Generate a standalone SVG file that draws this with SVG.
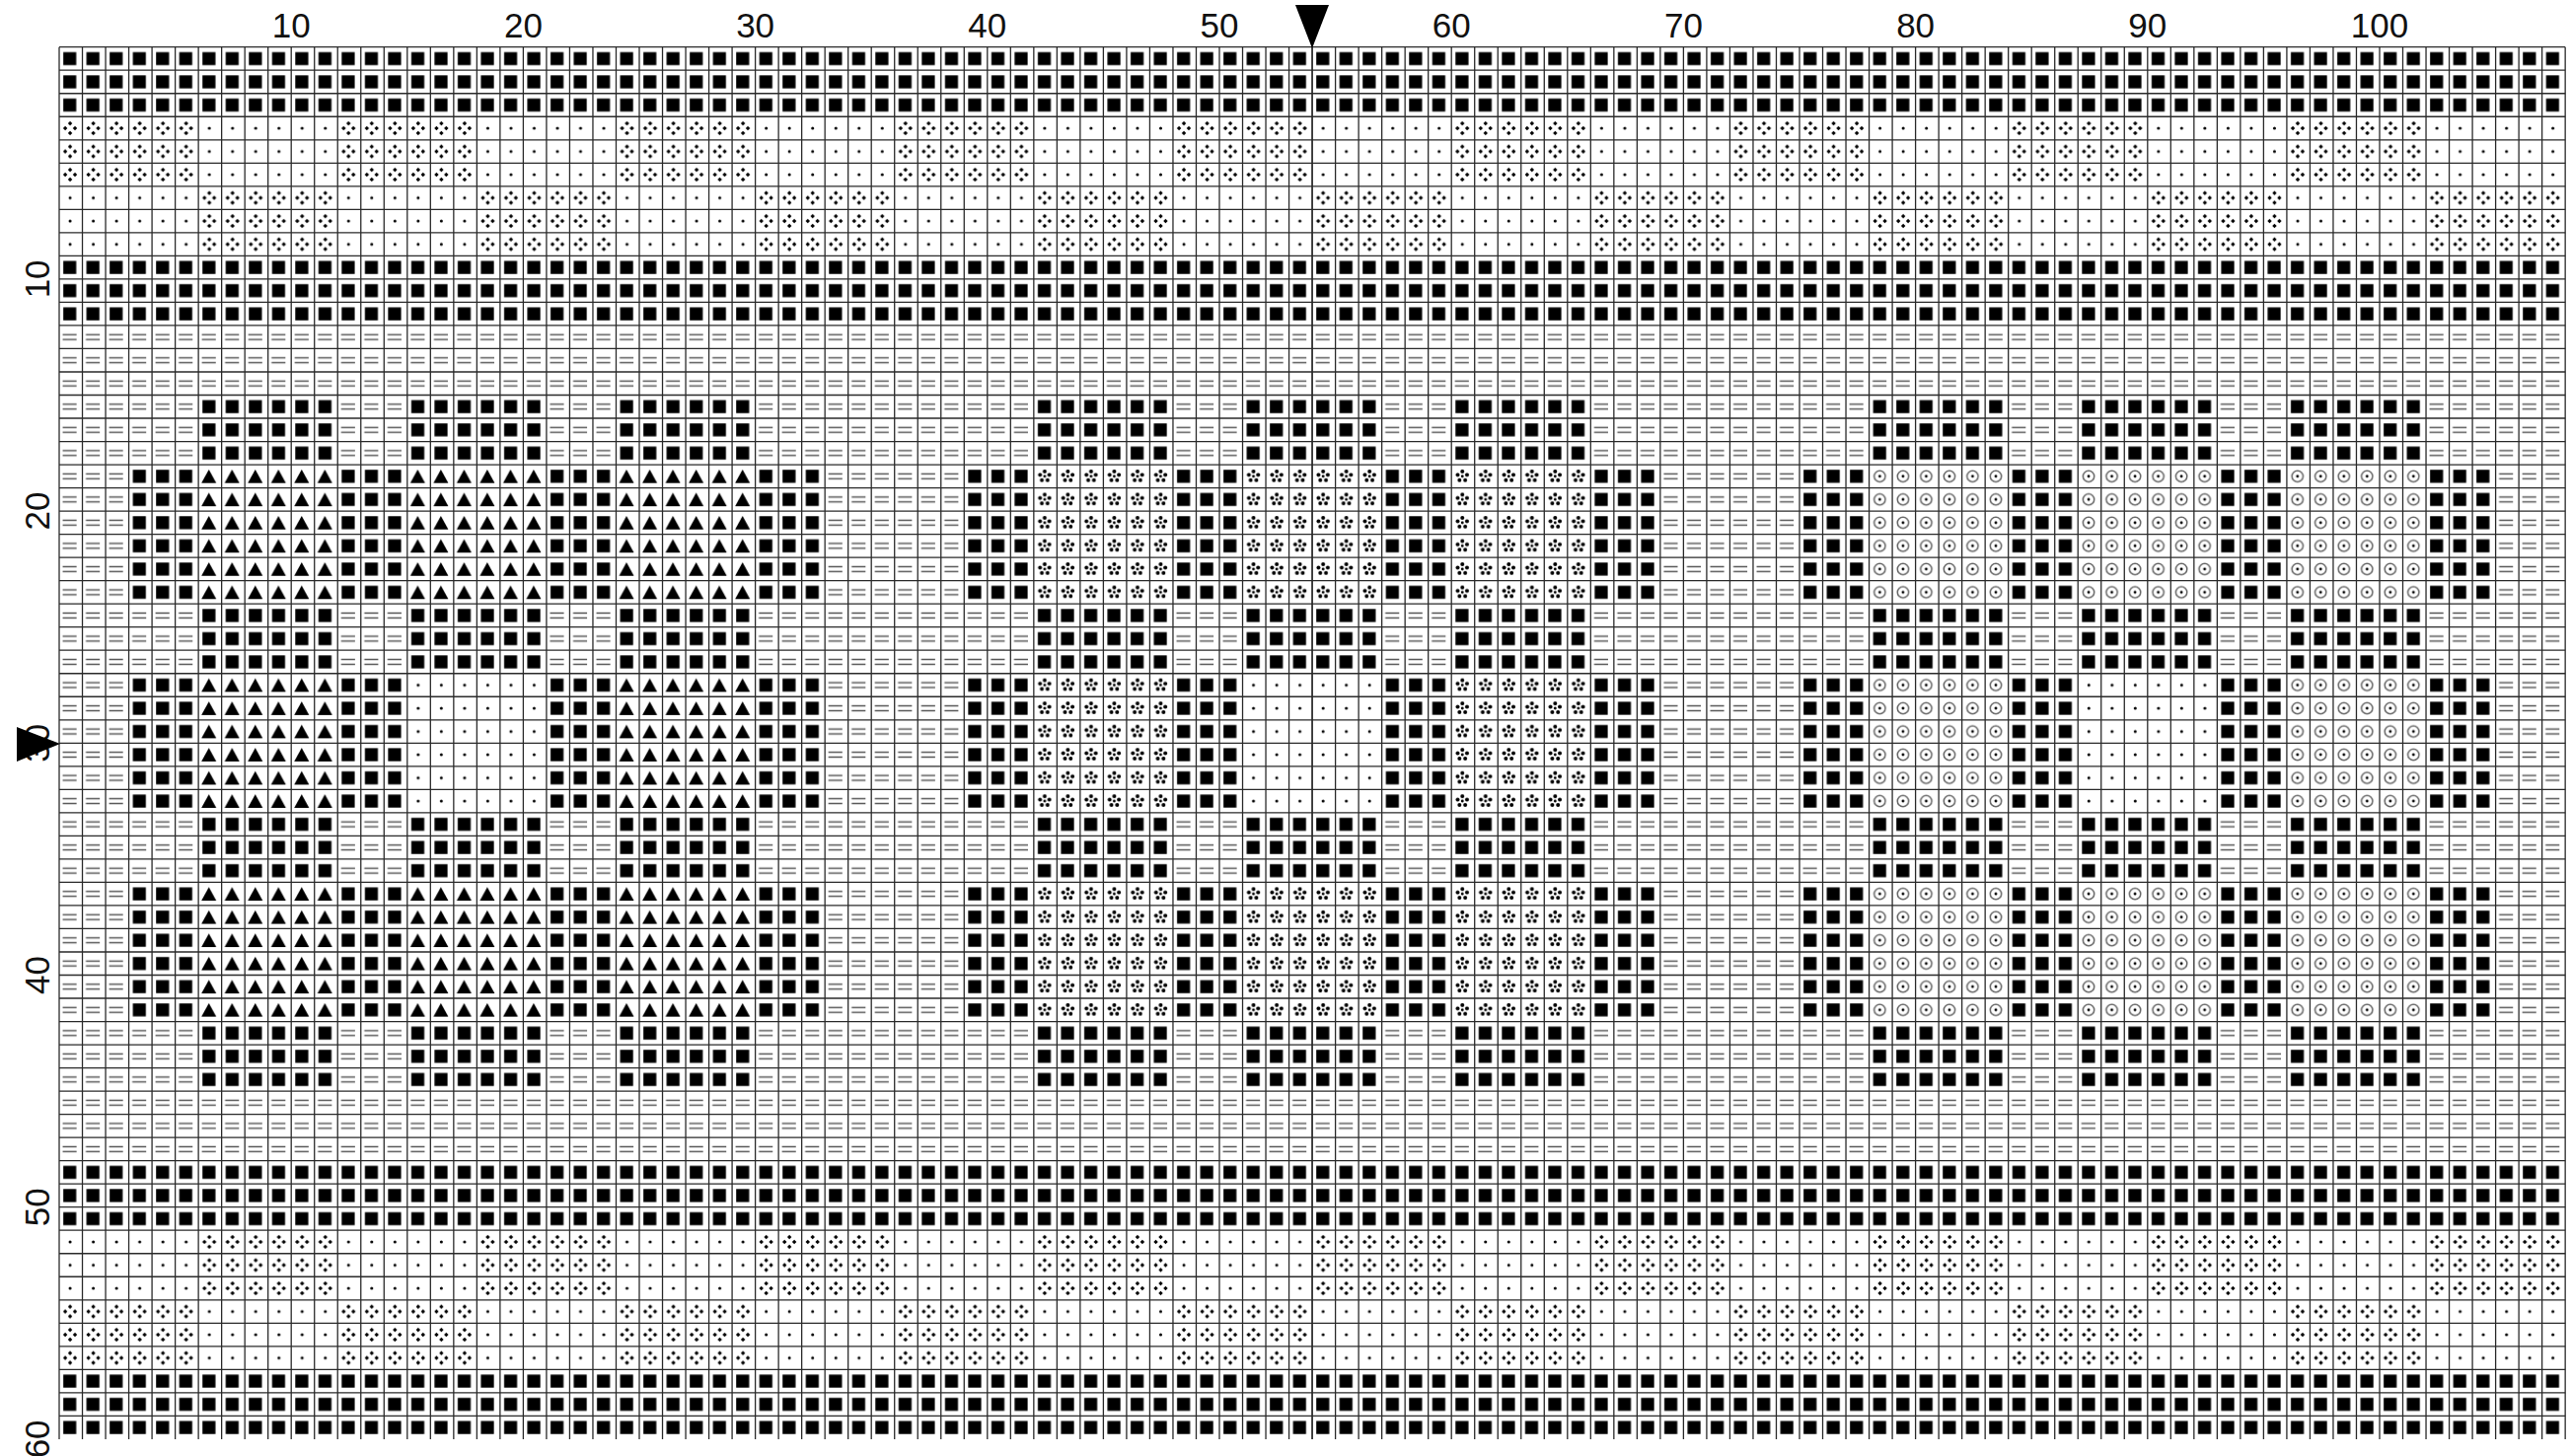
<svg xmlns="http://www.w3.org/2000/svg" width="2606" height="1476" viewBox="0 0 2606 1476">
<style>
.lbl{font-family:"Liberation Sans",Arial,sans-serif;font-size:35px;fill:#111;text-anchor:middle}
.grid{fill:none;stroke:#2a2a2a;stroke-width:0.055}
</style>
<defs>
<g id="sq"><rect x="0.175" y="0.22" width="0.56" height="0.56" fill="#000"/></g>
<g id="dt"><circle cx="0.47" cy="0.5" r="0.065" fill="#000"/></g>
<g id="fl"><path fill="#000" d="M0.47 0.195l0.095 0.095-0.095 0.095-0.095-0.095zM0.47 0.615l0.095 0.095-0.095 0.095-0.095-0.095zM0.26 0.405l0.095 0.095-0.095 0.095-0.095-0.095zM0.68 0.405l0.095 0.095-0.095 0.095-0.095-0.095z"/></g>
<g id="eq"><path fill="none" stroke="#555" stroke-width="0.06" d="M0.15 0.395h0.6M0.15 0.605h0.6"/></g>
<g id="tr"><polygon fill="#000" points="0.45,0.21 0.13,0.79 0.77,0.79"/></g>
<g id="sn" fill="#000"><circle cx="0.47" cy="0.5" r="0.06"/><circle cx="0.47" cy="0.29" r="0.085"/><circle cx="0.67" cy="0.435" r="0.085"/><circle cx="0.593" cy="0.67" r="0.085"/><circle cx="0.347" cy="0.67" r="0.085"/><circle cx="0.27" cy="0.435" r="0.085"/></g>
<g id="ci"><circle cx="0.46" cy="0.5" r="0.24" fill="none" stroke="#666" stroke-width="0.065"/><circle cx="0.46" cy="0.5" r="0.06" fill="#000"/></g>
<pattern id="pSq" patternUnits="userSpaceOnUse" width="1" height="1"><rect width="1" height="1" fill="#fff"/><use href="#sq"/></pattern>
<pattern id="pDt" patternUnits="userSpaceOnUse" width="1" height="1"><rect width="1" height="1" fill="#fff"/><use href="#dt"/></pattern>
<pattern id="pEq" patternUnits="userSpaceOnUse" width="1" height="1"><rect width="1" height="1" fill="#fff"/><use href="#eq"/></pattern>
<pattern id="pTr" patternUnits="userSpaceOnUse" width="1" height="1"><rect width="1" height="1" fill="#fff"/><use href="#tr"/></pattern>
<pattern id="pSn" patternUnits="userSpaceOnUse" width="1" height="1"><rect width="1" height="1" fill="#fff"/><use href="#sn"/></pattern>
<pattern id="pCi" patternUnits="userSpaceOnUse" width="1" height="1"><rect width="1" height="1" fill="#fff"/><use href="#ci"/></pattern>
<pattern id="pA" patternUnits="userSpaceOnUse" width="12" height="1"><rect width="12" height="1" fill="#fff"/><use href="#fl"/><use href="#fl" x="1"/><use href="#fl" x="2"/><use href="#fl" x="3"/><use href="#fl" x="4"/><use href="#fl" x="5"/><use href="#dt" x="6"/><use href="#dt" x="7"/><use href="#dt" x="8"/><use href="#dt" x="9"/><use href="#dt" x="10"/><use href="#dt" x="11"/></pattern>
<pattern id="pB" patternUnits="userSpaceOnUse" width="12" height="1"><rect width="12" height="1" fill="#fff"/><use href="#dt"/><use href="#dt" x="1"/><use href="#dt" x="2"/><use href="#dt" x="3"/><use href="#dt" x="4"/><use href="#dt" x="5"/><use href="#fl" x="6"/><use href="#fl" x="7"/><use href="#fl" x="8"/><use href="#fl" x="9"/><use href="#fl" x="10"/><use href="#fl" x="11"/></pattern>
</defs>
<rect width="2606" height="1476" fill="#fff"/>
<g id="chart" transform="translate(60 47.7) scale(23.52)">
<g id="bands">
<rect x="0" y="0" width="108" height="3" fill="url(#pSq)"/>
<rect x="0" y="3" width="108" height="3" fill="url(#pA)"/>
<rect x="0" y="6" width="108" height="3" fill="url(#pB)"/>
<rect x="0" y="9" width="108" height="3" fill="url(#pSq)"/>
<rect x="0" y="12" width="108" height="36" fill="url(#pEq)"/>
<rect x="0" y="48" width="108" height="3" fill="url(#pSq)"/>
<rect x="0" y="51" width="108" height="3" fill="url(#pB)"/>
<rect x="0" y="54" width="108" height="3" fill="url(#pA)"/>
<rect x="0" y="57" width="108" height="3" fill="url(#pSq)"/>
</g>
<g id="motif-triangles">
<rect x="6" y="15" width="6" height="30" fill="url(#pSq)"/>
<rect x="15" y="15" width="6" height="30" fill="url(#pSq)"/>
<rect x="24" y="15" width="6" height="30" fill="url(#pSq)"/>
<rect x="3" y="18" width="30" height="6" fill="url(#pSq)"/>
<rect x="3" y="27" width="30" height="6" fill="url(#pSq)"/>
<rect x="3" y="36" width="30" height="6" fill="url(#pSq)"/>
<rect x="6" y="18" width="6" height="6" fill="url(#pTr)"/>
<rect x="15" y="18" width="6" height="6" fill="url(#pTr)"/>
<rect x="24" y="18" width="6" height="6" fill="url(#pTr)"/>
<rect x="6" y="27" width="6" height="6" fill="url(#pTr)"/>
<rect x="15" y="27" width="6" height="6" fill="url(#pDt)"/>
<rect x="24" y="27" width="6" height="6" fill="url(#pTr)"/>
<rect x="6" y="36" width="6" height="6" fill="url(#pTr)"/>
<rect x="15" y="36" width="6" height="6" fill="url(#pTr)"/>
<rect x="24" y="36" width="6" height="6" fill="url(#pTr)"/>
</g>
<g id="motif-flowers">
<rect x="42" y="15" width="6" height="30" fill="url(#pSq)"/>
<rect x="51" y="15" width="6" height="30" fill="url(#pSq)"/>
<rect x="60" y="15" width="6" height="30" fill="url(#pSq)"/>
<rect x="39" y="18" width="30" height="6" fill="url(#pSq)"/>
<rect x="39" y="27" width="30" height="6" fill="url(#pSq)"/>
<rect x="39" y="36" width="30" height="6" fill="url(#pSq)"/>
<rect x="42" y="18" width="6" height="6" fill="url(#pSn)"/>
<rect x="51" y="18" width="6" height="6" fill="url(#pSn)"/>
<rect x="60" y="18" width="6" height="6" fill="url(#pSn)"/>
<rect x="42" y="27" width="6" height="6" fill="url(#pSn)"/>
<rect x="51" y="27" width="6" height="6" fill="url(#pDt)"/>
<rect x="60" y="27" width="6" height="6" fill="url(#pSn)"/>
<rect x="42" y="36" width="6" height="6" fill="url(#pSn)"/>
<rect x="51" y="36" width="6" height="6" fill="url(#pSn)"/>
<rect x="60" y="36" width="6" height="6" fill="url(#pSn)"/>
</g>
<g id="motif-circles">
<rect x="78" y="15" width="6" height="30" fill="url(#pSq)"/>
<rect x="87" y="15" width="6" height="30" fill="url(#pSq)"/>
<rect x="96" y="15" width="6" height="30" fill="url(#pSq)"/>
<rect x="75" y="18" width="30" height="6" fill="url(#pSq)"/>
<rect x="75" y="27" width="30" height="6" fill="url(#pSq)"/>
<rect x="75" y="36" width="30" height="6" fill="url(#pSq)"/>
<rect x="78" y="18" width="6" height="6" fill="url(#pCi)"/>
<rect x="87" y="18" width="6" height="6" fill="url(#pCi)"/>
<rect x="96" y="18" width="6" height="6" fill="url(#pCi)"/>
<rect x="78" y="27" width="6" height="6" fill="url(#pCi)"/>
<rect x="87" y="27" width="6" height="6" fill="url(#pDt)"/>
<rect x="96" y="27" width="6" height="6" fill="url(#pCi)"/>
<rect x="78" y="36" width="6" height="6" fill="url(#pCi)"/>
<rect x="87" y="36" width="6" height="6" fill="url(#pCi)"/>
<rect x="96" y="36" width="6" height="6" fill="url(#pCi)"/>
</g>
<g id="gridlines">
<path class="grid" d="M0 0v60m1-60v60m1-60v60m1-60v60m1-60v60m1-60v60m1-60v60m1-60v60m1-60v60m1-60v60m1-60v60m1-60v60m1-60v60m1-60v60m1-60v60m1-60v60m1-60v60m1-60v60m1-60v60
m1-60v60m1-60v60m1-60v60m1-60v60m1-60v60m1-60v60m1-60v60m1-60v60m1-60v60m1-60v60m1-60v60m1-60v60m1-60v60m1-60v60m1-60v60m1-60v60m1-60v60m1-60v60
m1-60v60m1-60v60m1-60v60m1-60v60m1-60v60m1-60v60m1-60v60m1-60v60m1-60v60m1-60v60m1-60v60m1-60v60m1-60v60m1-60v60m1-60v60m1-60v60m1-60v60m1-60v60
m1-60v60m1-60v60m1-60v60m1-60v60m1-60v60m1-60v60m1-60v60m1-60v60m1-60v60m1-60v60m1-60v60m1-60v60m1-60v60m1-60v60m1-60v60m1-60v60m1-60v60m1-60v60
m1-60v60m1-60v60m1-60v60m1-60v60m1-60v60m1-60v60m1-60v60m1-60v60m1-60v60m1-60v60m1-60v60m1-60v60m1-60v60m1-60v60m1-60v60m1-60v60m1-60v60m1-60v60
m1-60v60m1-60v60m1-60v60m1-60v60m1-60v60m1-60v60m1-60v60m1-60v60m1-60v60m1-60v60m1-60v60m1-60v60m1-60v60m1-60v60m1-60v60m1-60v60m1-60v60m1-60v60"/>
<path class="grid" d="M0 0h108m-108 1h108m-108 1h108m-108 1h108m-108 1h108m-108 1h108m-108 1h108m-108 1h108m-108 1h108m-108 1h108m-108 1h108m-108 1h108
m-108 1h108m-108 1h108m-108 1h108m-108 1h108m-108 1h108m-108 1h108m-108 1h108m-108 1h108m-108 1h108m-108 1h108m-108 1h108m-108 1h108
m-108 1h108m-108 1h108m-108 1h108m-108 1h108m-108 1h108m-108 1h108m-108 1h108m-108 1h108m-108 1h108m-108 1h108m-108 1h108m-108 1h108
m-108 1h108m-108 1h108m-108 1h108m-108 1h108m-108 1h108m-108 1h108m-108 1h108m-108 1h108m-108 1h108m-108 1h108m-108 1h108m-108 1h108
m-108 1h108m-108 1h108m-108 1h108m-108 1h108m-108 1h108m-108 1h108m-108 1h108m-108 1h108m-108 1h108m-108 1h108m-108 1h108m-108 1h108"/>
<path class="grid" stroke-width="0.085" d="M54 0v60"/>
</g>
</g>
<g id="labels" class="lbl">
<text x="295.2" y="38">10</text>
<text x="530.4" y="38">20</text>
<text x="765.6" y="38">30</text>
<text x="1000.8" y="38">40</text>
<text x="1236" y="38">50</text>
<text x="1471.2" y="38">60</text>
<text x="1706.4" y="38">70</text>
<text x="1941.6" y="38">80</text>
<text x="2176.8" y="38">90</text>
<text x="2412" y="38">100</text>
<text transform="translate(50 282.9) rotate(-90)">10</text>
<text transform="translate(50 518.1) rotate(-90)">20</text>
<text transform="translate(50 753.3) rotate(-90)">30</text>
<text transform="translate(50 988.5) rotate(-90)">40</text>
<text transform="translate(50 1223.7) rotate(-90)">50</text>
<text transform="translate(50 1458.9) rotate(-90)">60</text>
</g>
<g id="center-markers" fill="#000">
<polygon points="1313,5 1347,5 1330,49"/>
<polygon points="17,737 17,772 61,754"/>
</g>
</svg>
